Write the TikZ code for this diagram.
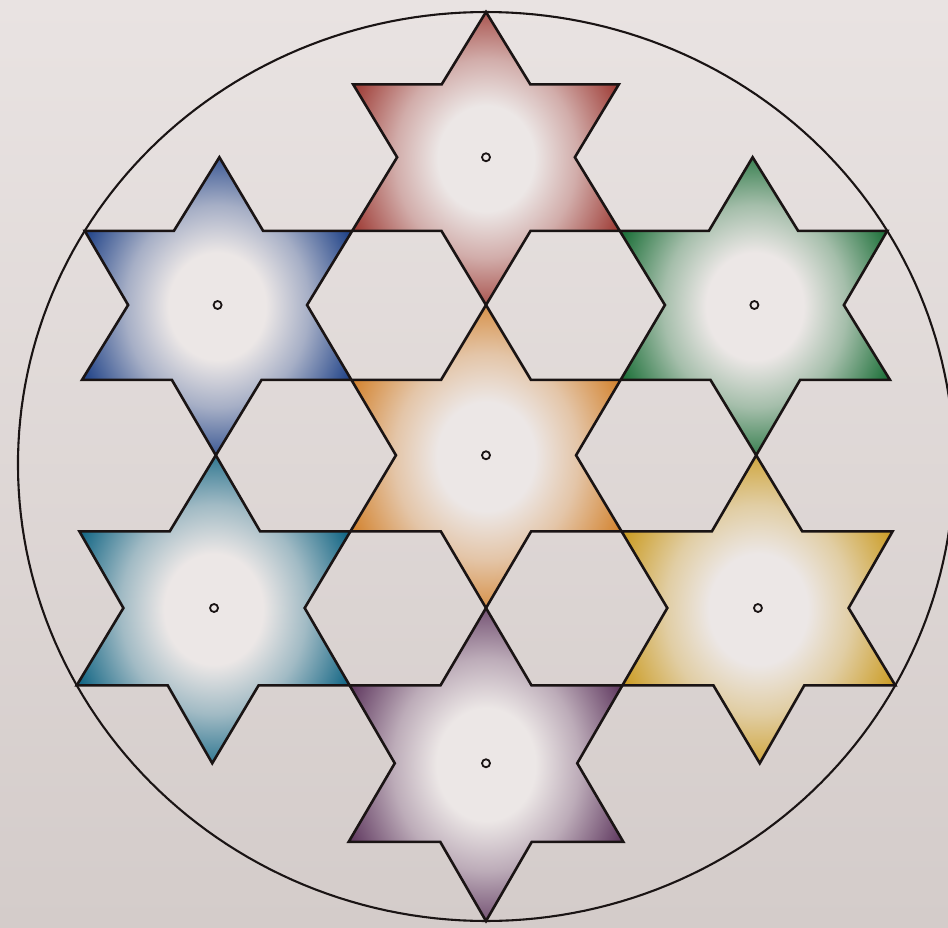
\documentclass[tikz,border=0pt]{standalone}
\definecolor{paperTop}{RGB}{233,227,226}
\definecolor{paperBot}{RGB}{212,204,202}
\definecolor{paperGlow}{RGB}{236,231,230}
\definecolor{ink}{RGB}{26,20,20}
\definecolor{cRed}{RGB}{160,64,58}
\definecolor{cBlue}{RGB}{36,70,138}
\definecolor{cGreen}{RGB}{32,114,60}
\definecolor{cOrange}{RGB}{212,134,52}
\definecolor{cTeal}{RGB}{22,104,134}
\definecolor{cYellow}{RGB}{204,158,40}
\definecolor{cPurple}{RGB}{100,62,100}
\colorlet{starcol}{cRed}
\colorlet{starmid}{cRed!35!paperGlow}
\pgfdeclareradialshading[starcol,starmid]{starshade}{\pgfpoint{0bp}{0bp}}{color(0bp)=(paperGlow); color(9bp)=(paperGlow); color(17bp)=(starmid); color(27bp)=(starcol); color(50bp)=(starcol)}
% lattice point (X in thirds of the half-width, L in half-radius levels) -> picture position
\newcommand\mapxy[2]{({486+(#1)*45.03*(1+0.0033*((#2)-6))},{455.25+75.75*((#2)-6)+0.3125*((#2)-6)*((#2)-6)})}
\newcommand\starpath[2]{\mapxy{#1}{#2-2} -- \mapxy{#1+1}{#2-1} -- \mapxy{#1+3}{#2-1} -- \mapxy{#1+2}{#2} -- \mapxy{#1+3}{#2+1} -- \mapxy{#1+1}{#2+1} -- \mapxy{#1}{#2+2} -- \mapxy{#1-1}{#2+1} -- \mapxy{#1-3}{#2+1} -- \mapxy{#1-2}{#2} -- \mapxy{#1-3}{#2-1} -- \mapxy{#1-1}{#2-1} -- cycle}
\newcommand\hexstar[4]{%
  \colorlet{starcol}{#4}%
  \colorlet{starmid}{#4!35!paperGlow}%
  \shade[shading=starshade] \starpath{#2}{#3};
  \draw[starline] \starpath{#2}{#3};
  \path \mapxy{#2}{#3} coordinate (#1);
  \draw[dotline] (#1) circle (4);
}
\begin{document}
\begin{tikzpicture}[x=0.5pt, y={(0pt,-0.5pt)},
  starline/.style={draw=ink, line width=1.3pt, line join=miter},
  ringline/.style={draw=ink, line width=1.05pt},
  dotline/.style={draw=ink, line width=0.9pt}]
\useasboundingbox (0,0) rectangle (948,927);
\shade[top color=paperTop, bottom color=paperBot] (0,0) rectangle (948,927);
\hexstar{sTop}{0}{2}{cRed}
\hexstar{sUL}{-6}{4}{cBlue}
\hexstar{sUR}{6}{4}{cGreen}
\hexstar{sC}{0}{6}{cOrange}
\hexstar{sLL}{-6}{8}{cTeal}
\hexstar{sLR}{6}{8}{cYellow}
\hexstar{sBot}{0}{10}{cPurple}
\draw[ringline] plot[domain=0:360, samples=241]
  ({486+10.392*cos(\x)*45.03*(1+0.0198*sin(\x))}, {455.25+454.5*sin(\x)+11.25*sin(\x)*sin(\x)}) -- cycle;
\end{tikzpicture}
\end{document}
